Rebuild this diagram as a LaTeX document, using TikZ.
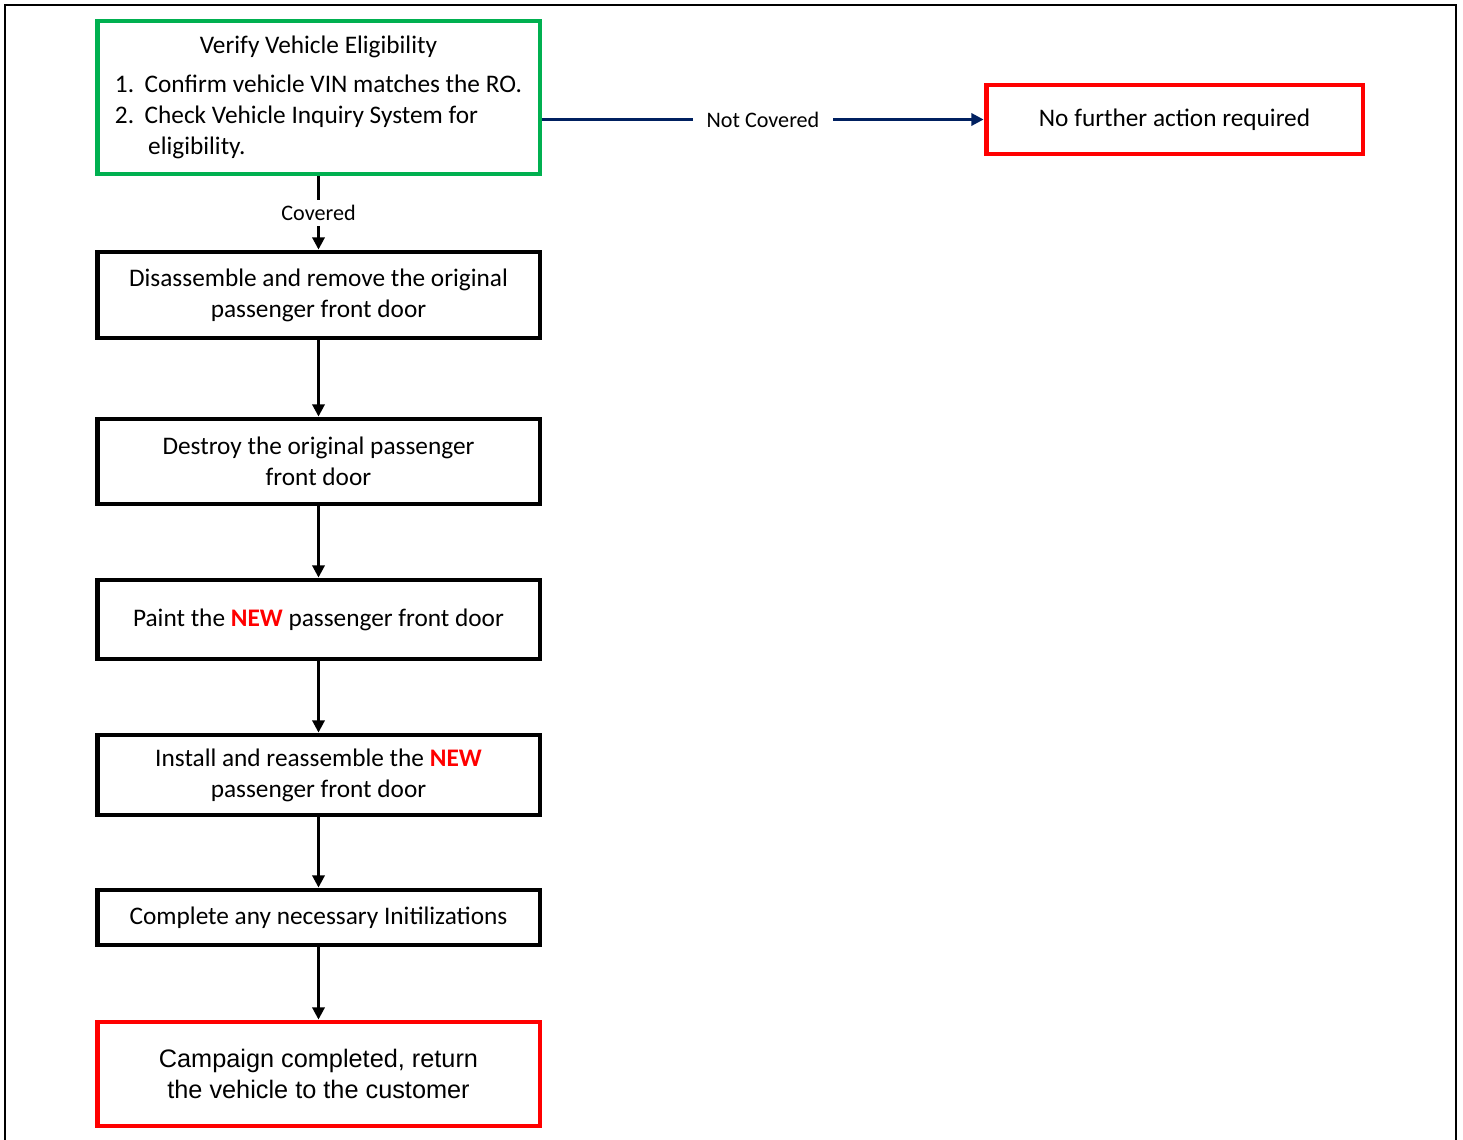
\documentclass[tikz,border=0pt]{standalone}
\usepackage{fontspec}
\setmainfont{Carlito}
\newfontfamily\campaignfont{Liberation Sans}
\usetikzlibrary{arrows.meta,positioning}
\definecolor{flowgreen}{RGB}{0,176,80}
\definecolor{flowred}{RGB}{255,0,0}
\definecolor{flownavy}{RGB}{0,32,96}
\newcommand{\newword}{\textcolor{flowred}{\textbf{NEW}}}

\tikzset{
  stepbox/.style={draw=black, line width=2.8pt, fill=white, minimum width=8.86cm, align=center, inner sep=2pt, font=\fontsize{14.4}{17.6}\selectfont},
  flowarrow/.style={-{Triangle[length=7pt,width=7pt]}, line width=1.6pt},
  flowlabel/.style={fill=white, font=\fontsize{12.6}{15}\selectfont, inner xsep=8pt, inner ysep=3pt}
}

\begin{document}
\begin{tikzpicture}[x=0.02cm, y=-0.02cm]
  \useasboundingbox (0,0) rectangle (1463,1139);
  \draw[line width=1.4pt] (5,5) rectangle (1456,1170);
  % eligibility check
  \node[stepbox, draw=flowgreen, minimum height=3.06cm] (verify) at (318.5,97.5) {%
    \begin{tabular}{@{}l@{\hspace{6pt}}l@{}}
      \multicolumn{2}{c}{Verify Vehicle Eligibility}\\[4.5pt]
      1. & Confirm vehicle VIN matches the RO.\\
      2. & Check Vehicle Inquiry System for\\
         & \hspace{2pt}eligibility.
    \end{tabular}};
  \node[stepbox, draw=flowred, minimum width=7.54cm, minimum height=1.38cm] (nofurther) at (1174.5,119.5) {No further action required};
  % repair steps
  \node[stepbox, minimum height=1.72cm] (remove) at (318.5,295) {Disassemble and remove the original\\passenger front door};
  \node[stepbox, minimum height=1.70cm] (destroy) at (318.5,461.5) {Destroy the original passenger\\front door};
  \node[stepbox, minimum height=1.58cm] (paint) at (318.5,619.5) {Paint the \newword{} passenger front door};
  \node[stepbox, minimum height=1.60cm] (install) at (318.5,775) {Install and reassemble the \newword\\passenger front door};
  \node[stepbox, minimum height=1.10cm] (init) at (318.5,917.5) {Complete any necessary Initilizations};
  \node[stepbox, draw=flowred, minimum height=2.08cm, font=\campaignfont\fontsize{14.4}{17.6}\selectfont] (campaign) at (318.5,1074) {Campaign completed, return\\the vehicle to the customer};
  % connectors
  \draw[flowarrow, flownavy] (verify.east |- nofurther) -- node[flowlabel, text=black] {Not Covered} (nofurther.west);
  \draw[flowarrow] (verify.south) -- node[flowlabel] {Covered} (remove.north);
  \draw[flowarrow] (remove) -- (destroy);
  \draw[flowarrow] (destroy) -- (paint);
  \draw[flowarrow] (paint) -- (install);
  \draw[flowarrow] (install) -- (init);
  \draw[flowarrow] (init) -- (campaign);
\end{tikzpicture}
\end{document}
